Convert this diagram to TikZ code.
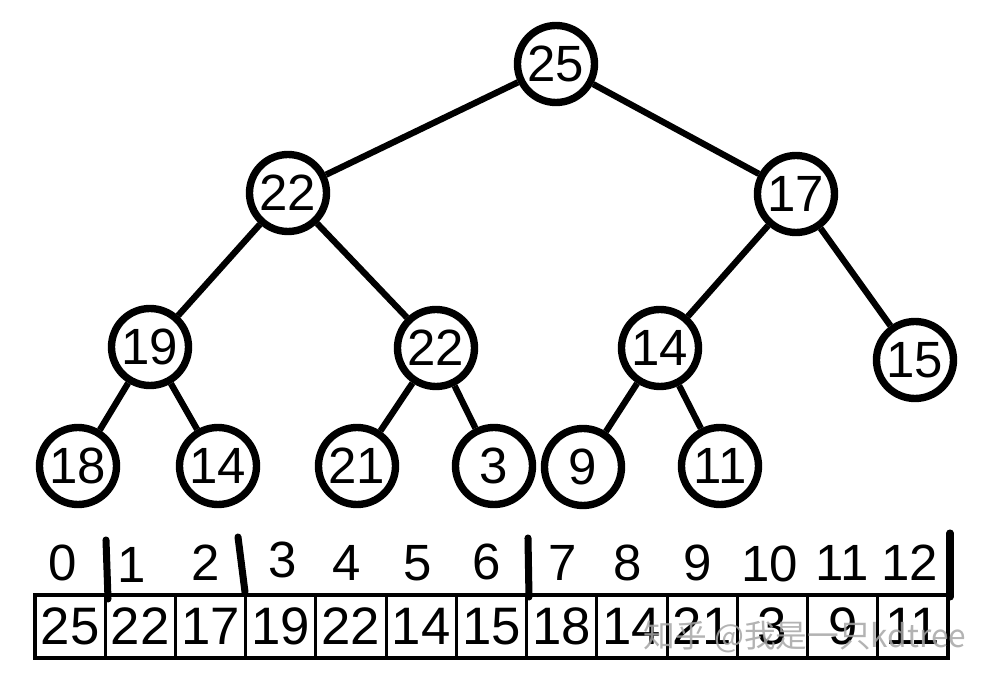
\documentclass[tikz,border=0pt]{standalone}
\usepackage{fontspec}
\setmainfont{Liberation Sans}
\newfontfamily\cjkfont{Noto Sans CJK SC}
\usepackage{tikz}
\usetikzlibrary{shapes}

\begin{document}
\begin{tikzpicture}
  \useasboundingbox (0,0) rectangle (9.83,6.78);
  \tikzset{vertex/.style = {shape=circle,draw,line width=2.1pt,minimum size=0.77cm,inner sep=0pt,font=\fontsize{14.5}{16}\selectfont}}
  \tikzset{edge/.style = {line width=1.8pt}}
  \tikzset{cell/.style = {shape=rectangle,draw,line width=0.9pt,minimum width=0.7023cm,minimum height=0.63cm,inner sep=0pt,font=\fontsize{15}{17}\selectfont}}
  \tikzset{index/.style = {inner sep=0pt,font=\fontsize{14.5}{17}\selectfont}}
  \tikzset{bar/.style = {line width=2pt,line cap=round}}
  % vertices
  \node[vertex] (a) at (5.56,6.14) {25};
  \node[vertex] (b) at (2.88,4.85) {22};
  \node[vertex] (c) at (7.96,4.84) {17};
  \node[vertex] (d) at (1.50,3.31) {19};
  \node[vertex] (e) at (4.36,3.30) {22};
  \node[vertex] (f) at (6.60,3.30) {14};
  \node[vertex] (g) at (9.15,3.18) {15};
  \node[vertex] (h) at (0.78,2.12) {18};
  \node[vertex] (i) at (2.18,2.12) {14};
  \node[vertex] (j) at (3.57,2.12) {21};
  \node[vertex] (k) at (4.94,2.12) {3};
  \node[vertex] (l) at (5.83,2.11) {9};
  \node[vertex] (m) at (7.20,2.12) {11};
  %edges
  \draw[edge] (a) -- (b);
  \draw[edge] (a) -- (c);
  \draw[edge] (b) -- (d);
  \draw[edge] (b) -- (e);
  \draw[edge] (c) -- (f);
  \draw[edge] (c) -- (g);
  \draw[edge] (d) -- (h);
  \draw[edge] (d) -- (i);
  \draw[edge] (e) -- (j);
  \draw[edge] (e) -- (k);
  \draw[edge] (f) -- (l);
  \draw[edge] (f) -- (m);
  % array
  \node[cell] (s0) at (0.701,0.515) {25};
  \node[cell] (s1) at (1.403,0.515) {22};
  \node[cell] (s2) at (2.106,0.515) {17};
  \node[cell] (s3) at (2.808,0.515) {19};
  \node[cell] (s4) at (3.510,0.515) {22};
  \node[cell] (s5) at (4.213,0.515) {14};
  \node[cell] (s6) at (4.915,0.515) {15};
  \node[cell] (s7) at (5.617,0.515) {18};
  \node[cell] (s8) at (6.320,0.515) {14};
  \node[cell] (s9) at (7.022,0.515) {21};
  \node[cell] (s10) at (7.725,0.515) {3};
  \node[cell] (s11) at (8.427,0.515) {9};
  \node[cell] (s12) at (9.129,0.515) {11};
  % indices
  \node[index] (t0) at (0.63,1.15) {0};
  \node[index] (t1) at (1.32,1.13) {1};
  \node[index] (t2) at (2.06,1.15) {2};
  \node[index] (t3) at (2.83,1.18) {3};
  \node[index] (t4) at (3.47,1.15) {4};
  \node[index] (t5) at (4.18,1.15) {5};
  \node[index] (t6) at (4.87,1.16) {6};
  \node[index] (t7) at (5.63,1.15) {7};
  \node[index] (t8) at (6.28,1.15) {8};
  \node[index] (t9) at (6.98,1.15) {9};
  \node[index] (t10) at (7.70,1.14) {10};
  \node[index] (t11) at (8.42,1.15) {11};
  \node[index] (t12) at (9.10,1.15) {12};
  % separators
  \draw[bar] (1.06,1.38) -- (1.08,0.79);
  \draw[bar] (2.38,1.41) -- (2.45,0.86);
  \draw[bar] (5.28,1.40) -- (5.29,0.81);
  \draw[bar] (9.50,1.45) -- (9.50,0.81);
  % watermark
  \node[text=black!35,opacity=0.85,inner sep=0pt,font=\cjkfont\fontsize{9}{11}\selectfont] (w) at (8.05,0.41) {知乎 @我是一只kdtree};
\end{tikzpicture}
\end{document}
